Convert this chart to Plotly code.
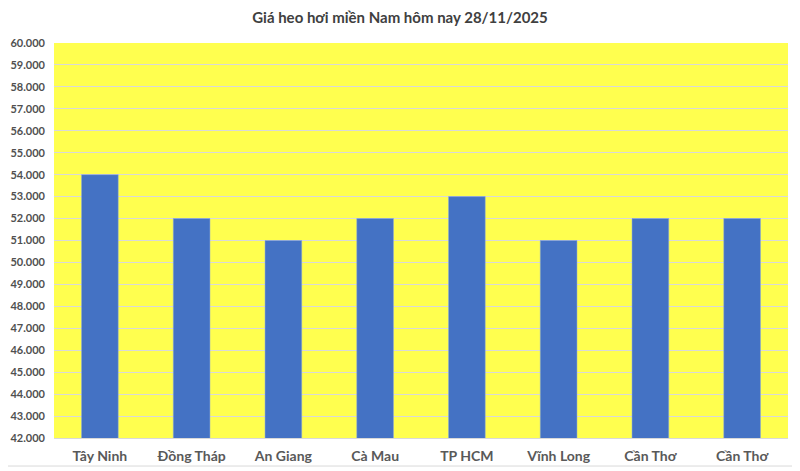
import plotly.graph_objects as go

# Data
provinces = ['Tây Ninh', 'Đồng Tháp', 'An Giang', 'Cà Mau', 'TP HCM', 'Vĩnh Long', 'Cần Thơ', 'Cần Thơ']
prices = [54000, 52000, 51000, 52000, 53000, 51000, 52000, 52000]
title_text = 'Giá heo hơi miền Nam hôm nay 28/11/2025'

# categories repeat (Cần Thơ twice), so place bars by index
positions = list(range(len(provinces)))

fig = go.Figure(go.Bar(
    x=positions,
    y=prices,
    marker=dict(color='#4472C4', line=dict(color='#8FA9DC', width=0.5)),
))

# page body adds an 8px offset, margins compensate for it
fig.update_layout(
    title=dict(text=f'<b>{title_text}</b>', x=0.49, xanchor='center', y=0.98, yanchor='middle',
               font=dict(family='Lato, Open Sans, sans-serif', size=15, color='#404040')),
    width=800, height=471,
    margin=dict(l=46, r=20, t=35, b=41),
    paper_bgcolor='white',
    plot_bgcolor='#FFFF4F',
    bargap=0.6,
    separators=',.',
    showlegend=False,
    font=dict(family='Lato, Open Sans, sans-serif', color='#595959'),
)

fig.update_xaxes(
    tickmode='array', tickvals=positions,
    ticktext=[f'<b>{p}</b>' for p in provinces],
    tickfont=dict(size=14, color='#595959'),
    range=[-0.5, len(provinces) - 0.5],
    showgrid=False, showline=True, linecolor='#D9D9D9', ticks='',
    ticklabelstandoff=5, automargin=False,
)

fig.update_yaxes(
    range=[42000, 60000], dtick=1000, tickformat=',d',
    tickprefix='<b>', ticksuffix='</b>',
    tickfont=dict(size=11, color='#505050'),
    gridcolor='#D9D9D9', gridwidth=1, zeroline=False, ticks='',
    ticklabelstandoff=8, automargin=False,
)

fig.add_shape(type='rect', xref='paper', yref='paper', x0=-0.067, x1=1.012, y0=-0.071, y1=1.096,
              line=dict(color='#D9D9D9', width=1), layer='below')

fig.write_html("out.html")
